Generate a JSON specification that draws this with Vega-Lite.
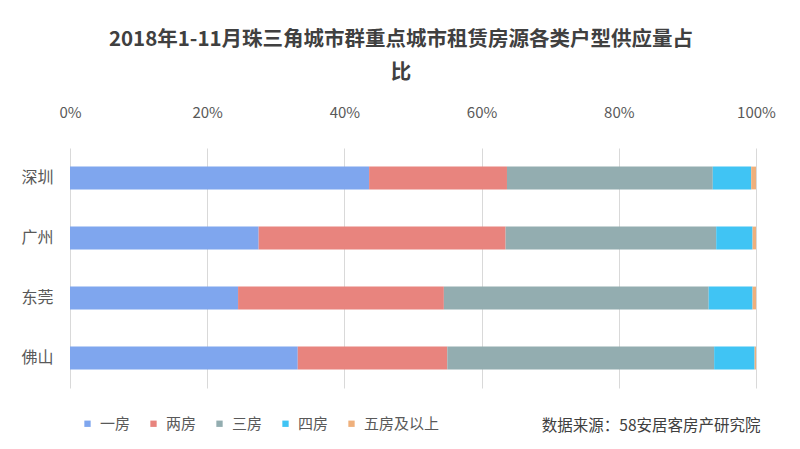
{
  "$schema": "https://vega.github.io/schema/vega-lite/v6.json",
  "autosize": {"type": "none"},
  "width": 686,
  "height": 240,
  "padding": {"left": 70, "top": 148, "right": 44, "bottom": 61},
  "background": "white",
  "config": {
    "font": "Noto Sans CJK SC",
    "view": {"stroke": null}
  },
  "title": {
    "text": ["2018年1-11月珠三角城市群重点城市租赁房源各类户型供应量占", "比"],
    "fontSize": 20.5,
    "fontWeight": "bold",
    "color": "#404040",
    "lineHeight": 33,
    "anchor": "middle",
    "dx": -12,
    "offset": 22
  },
  "data": {
    "values": [
      {"city": "深圳", "type": "一房", "k": 1, "pct": 43.6},
      {"city": "深圳", "type": "两房", "k": 2, "pct": 20.1},
      {"city": "深圳", "type": "三房", "k": 3, "pct": 30.0},
      {"city": "深圳", "type": "四房", "k": 4, "pct": 5.6},
      {"city": "深圳", "type": "五房及以上", "k": 5, "pct": 0.7},
      {"city": "广州", "type": "一房", "k": 1, "pct": 27.5},
      {"city": "广州", "type": "两房", "k": 2, "pct": 36.0},
      {"city": "广州", "type": "三房", "k": 3, "pct": 30.7},
      {"city": "广州", "type": "四房", "k": 4, "pct": 5.3},
      {"city": "广州", "type": "五房及以上", "k": 5, "pct": 0.5},
      {"city": "东莞", "type": "一房", "k": 1, "pct": 24.5},
      {"city": "东莞", "type": "两房", "k": 2, "pct": 30.0},
      {"city": "东莞", "type": "三房", "k": 3, "pct": 38.6},
      {"city": "东莞", "type": "四房", "k": 4, "pct": 6.4},
      {"city": "东莞", "type": "五房及以上", "k": 5, "pct": 0.5},
      {"city": "佛山", "type": "一房", "k": 1, "pct": 33.2},
      {"city": "佛山", "type": "两房", "k": 2, "pct": 21.8},
      {"city": "佛山", "type": "三房", "k": 3, "pct": 38.9},
      {"city": "佛山", "type": "四房", "k": 4, "pct": 5.9},
      {"city": "佛山", "type": "五房及以上", "k": 5, "pct": 0.2}
    ]
  },
  "layer": [
    {
      "mark": {"type": "bar"},
      "encoding": {
        "y": {
          "field": "city",
          "type": "nominal",
          "sort": ["深圳", "广州", "东莞", "佛山"],
          "scale": {"paddingInner": 0.62, "paddingOuter": 0.31},
          "axis": {
            "title": null,
            "ticks": false,
            "domain": false,
            "labelFontSize": 16,
            "labelColor": "#595959",
            "labelPadding": 17
          }
        },
        "x": {
          "field": "pct",
          "type": "quantitative",
          "stack": "normalize",
          "scale": {"domain": [0, 1]},
          "axis": {
            "orient": "top",
            "title": null,
            "format": "%",
            "values": [0, 0.2, 0.4, 0.6, 0.8, 1],
            "ticks": false,
            "domain": false,
            "grid": true,
            "gridColor": "#d9d9d9",
            "gridWidth": 1,
            "labelFontSize": 15,
            "labelColor": "#595959",
            "labelPadding": 28,
            "labelFlush": false
          }
        },
        "color": {
          "field": "type",
          "type": "nominal",
          "scale": {
            "domain": ["一房", "两房", "三房", "四房", "五房及以上"],
            "range": ["#7fa6ee", "#e8847e", "#93adb0", "#40c4f4", "#efb07c"]
          },
          "legend": {
            "title": null,
            "orient": "none",
            "direction": "horizontal",
            "legendX": 10,
            "legendY": 268,
            "symbolType": "square",
            "symbolSize": 40,
            "symbolStrokeWidth": 0,
            "labelFontSize": 15,
            "labelColor": "#595959",
            "labelOffset": 5,
            "columnPadding": 15
          }
        },
        "order": {"field": "k", "type": "quantitative"}
      }
    },
    {
      "mark": {"type": "bar", "opacity": 0},
      "encoding": {
        "y": {"field": "city", "type": "nominal", "sort": ["深圳", "广州", "东莞", "佛山"]},
        "x": {
          "field": "pct",
          "type": "quantitative",
          "stack": "normalize",
          "scale": {"domain": [0, 1]},
          "axis": {
            "orient": "bottom",
            "title": "数据来源：58安居客房产研究院",
            "labels": false,
            "ticks": false,
            "domain": false,
            "grid": false,
            "titleFontSize": 15.5,
            "titleFontWeight": "normal",
            "titleColor": "#404040",
            "titleAnchor": "end",
            "titleAlign": "right",
            "titleBaseline": "middle",
            "titleX": 690,
            "titleY": 37
          }
        },
        "order": {"field": "k", "type": "quantitative"}
      }
    }
  ],
  "resolve": {"axis": {"x": "independent"}}
}
